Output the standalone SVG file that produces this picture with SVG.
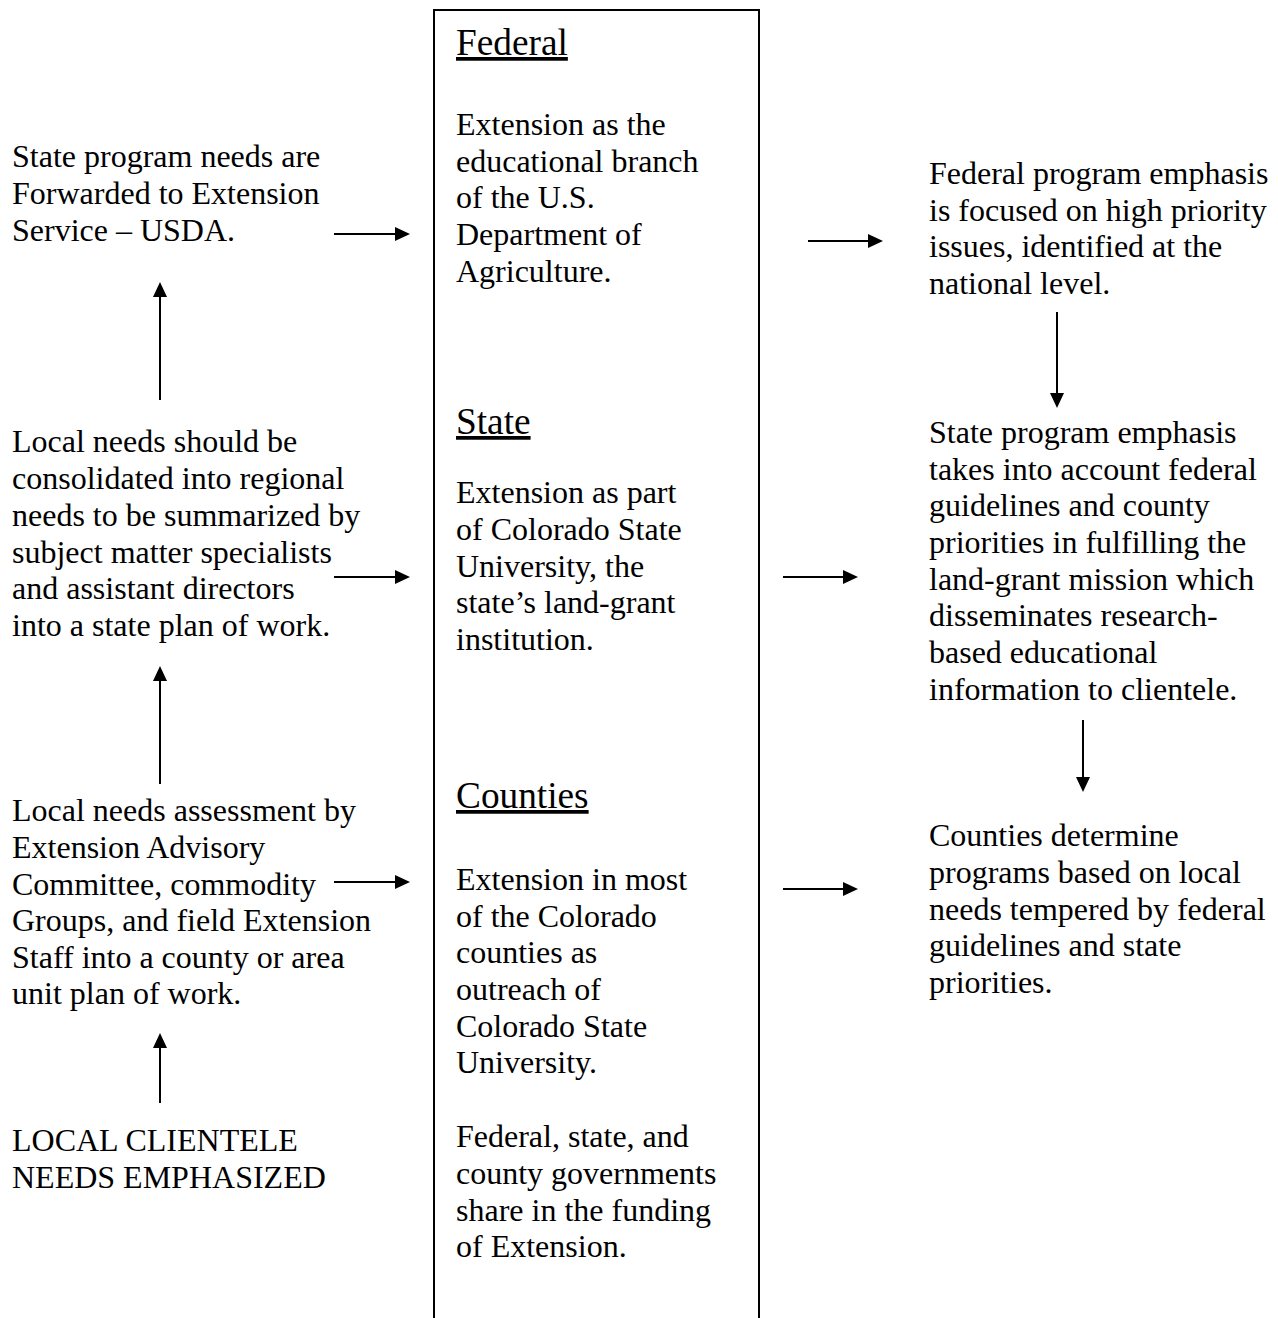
<svg xmlns="http://www.w3.org/2000/svg" width="1278" height="1318" viewBox="0 0 1278 1318">
<style>
text { font-family: "Liberation Serif", "Times New Roman", serif; font-size: 32px; fill: #000; }
.h { font-size: 37.3px; text-decoration: underline; }
.conn line { stroke: #000; stroke-width: 2; fill: none; }
.box { fill: none; stroke: #000; stroke-width: 2; }
</style>
<defs>
<marker id="ah" markerUnits="userSpaceOnUse" markerWidth="16" markerHeight="15" refX="13" refY="7" orient="auto">
<path d="M0,0 L15,7 L0,14 Z" fill="#000"/>
</marker>
</defs>
<rect width="1278" height="1318" fill="#fff"/>

<g id="center-box">
<path class="box" d="M434,1330 L434,10 L759,10 L759,1330"/>
</g>

<g id="federal">
<text class="h" x="456" y="55">Federal</text>
<text x="456" y="135">Extension as the</text>
<text x="456" y="172">educational branch</text>
<text x="456" y="208">of the U.S.</text>
<text x="456" y="245">Department of</text>
<text x="456" y="282">Agriculture.</text>
</g>

<g id="state">
<text class="h" x="456" y="434">State</text>
<text x="456" y="503">Extension as part</text>
<text x="456" y="540">of Colorado State</text>
<text x="456" y="577">University, the</text>
<text x="456" y="613">state’s land-grant</text>
<text x="456" y="650">institution.</text>
</g>

<g id="counties">
<text class="h" x="456" y="808">Counties</text>
<text x="456" y="890">Extension in most</text>
<text x="456" y="927">of the Colorado</text>
<text x="456" y="963">counties as</text>
<text x="456" y="1000">outreach of</text>
<text x="456" y="1037">Colorado State</text>
<text x="456" y="1073">University.</text>
</g>

<g id="funding">
<text x="456" y="1147">Federal, state, and</text>
<text x="456" y="1184">county governments</text>
<text x="456" y="1221">share in the funding</text>
<text x="456" y="1257">of Extension.</text>
</g>

<g id="state-needs">
<text x="12" y="167">State program needs are</text>
<text x="12" y="204">Forwarded to Extension</text>
<text x="12" y="241">Service – USDA.</text>
</g>

<g id="local-needs">
<text x="12" y="452">Local needs should be</text>
<text x="12" y="489">consolidated into regional</text>
<text x="12" y="526">needs to be summarized by</text>
<text x="12" y="563">subject matter specialists</text>
<text x="12" y="599">and assistant directors</text>
<text x="12" y="636">into a state plan of work.</text>
</g>

<g id="local-assessment">
<text x="12" y="821">Local needs assessment by</text>
<text x="12" y="858">Extension Advisory</text>
<text x="12" y="895">Committee, commodity</text>
<text x="12" y="931">Groups, and field Extension</text>
<text x="12" y="968">Staff into a county or area</text>
<text x="12" y="1004">unit plan of work.</text>
</g>

<g id="local-clientele">
<text x="12" y="1151">LOCAL CLIENTELE</text>
<text x="12" y="1188">NEEDS EMPHASIZED</text>
</g>

<g id="federal-emphasis">
<text x="929" y="184">Federal program emphasis</text>
<text x="929" y="221">is focused on high priority</text>
<text x="929" y="257">issues, identified at the</text>
<text x="929" y="294">national level.</text>
</g>

<g id="state-emphasis">
<text x="929" y="443">State program emphasis</text>
<text x="929" y="480">takes into account federal</text>
<text x="929" y="516">guidelines and county</text>
<text x="929" y="553">priorities in fulfilling the</text>
<text x="929" y="590">land-grant mission which</text>
<text x="929" y="626">disseminates research-</text>
<text x="929" y="663">based educational</text>
<text x="929" y="700">information to clientele.</text>
</g>

<g id="counties-determine">
<text x="929" y="846">Counties determine</text>
<text x="929" y="883">programs based on local</text>
<text x="929" y="920">needs tempered by federal</text>
<text x="929" y="956">guidelines and state</text>
<text x="929" y="993">priorities.</text>
</g>

<g id="connectors" class="conn">
<line x1="334" y1="234" x2="408" y2="234" marker-end="url(#ah)"/>
<line x1="334" y1="577" x2="408" y2="577" marker-end="url(#ah)"/>
<line x1="334" y1="882" x2="408" y2="882" marker-end="url(#ah)"/>
<line x1="160" y1="400" x2="160" y2="284" marker-end="url(#ah)"/>
<line x1="160" y1="784" x2="160" y2="668" marker-end="url(#ah)"/>
<line x1="160" y1="1103" x2="160" y2="1035" marker-end="url(#ah)"/>
<line x1="808" y1="241" x2="881" y2="241" marker-end="url(#ah)"/>
<line x1="783" y1="577" x2="856" y2="577" marker-end="url(#ah)"/>
<line x1="783" y1="889" x2="856" y2="889" marker-end="url(#ah)"/>
<line x1="1057" y1="312" x2="1057" y2="406" marker-end="url(#ah)"/>
<line x1="1083" y1="720" x2="1083" y2="790" marker-end="url(#ah)"/>
</g>
</svg>
